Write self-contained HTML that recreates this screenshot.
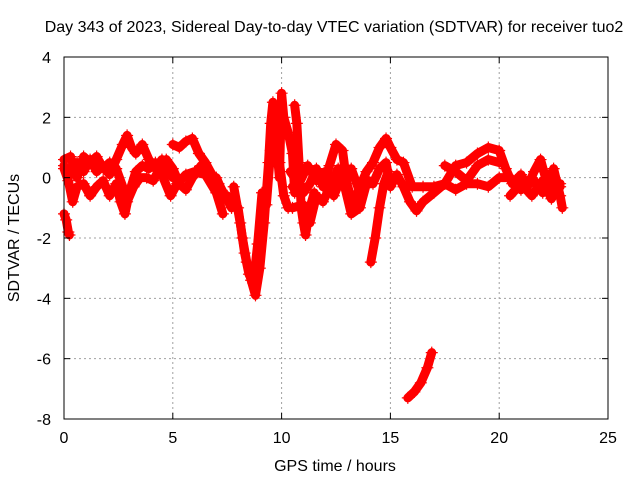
<!DOCTYPE html>
<html><head><meta charset="utf-8"><style>
body{margin:0;background:#fff}
svg text{font-family:"Liberation Sans",sans-serif;font-size:16px;fill:#000}
</style></head><body>
<svg width="640" height="480">
<rect width="640" height="480" fill="#fff"/>
<text x="334" y="32" text-anchor="middle">Day 343 of 2023, Sidereal Day-to-day VTEC variation (SDTVAR) for receiver tuo2</text>
<g id="grid"></g><g id="marks"></g><g id="axes"></g>
<text x="335" y="471" text-anchor="middle">GPS time / hours</text>
<text transform="translate(19,238) rotate(-90)" text-anchor="middle">SDTVAR / TECUs</text>
</svg>
<script>
const xTicks=[0,5,10,15,20,25];
const yTicks=[4,2,0,-2,-4,-6,-8];
const trackA=[[0,0.4],[0.3,0.1],[0.6,0.5],[0.9,0.2],[1.2,0.6],[1.5,0.2],[1.8,0.4],[2.1,0.1],[2.4,0.6],[2.7,1.1],[2.9,1.4],[3.1,1.0],[3.3,0.8],[3.6,1.1],[3.9,0.6],[4.2,0.3],[4.5,0.6],[4.8,0.2],[5.0,0.0]];
const trackA2=[[5.0,1.1],[5.3,1.0],[5.6,1.2],[5.9,1.3],[6.2,0.8],[6.5,0.5],[6.8,0.1],[7.1,-0.2],[7.4,-0.6],[7.7,-1.0]];
const trackB=[[0,0.3],[0.2,-0.1],[0.4,-0.8],[0.6,-0.3],[0.9,-0.2],[1.2,-0.6],[1.5,-0.3],[1.8,-0.1],[2.1,-0.6],[2.4,-0.2],[2.6,-0.8],[2.8,-1.2],[3.0,-0.5],[3.3,0.2],[3.6,0.4],[3.9,0.3],[4.2,0.5],[4.5,0.1],[4.9,-0.6],[5.2,-0.2],[5.6,0.1],[6.0,0.2],[6.5,0.1],[7.0,-0.5],[7.3,-1.2]];
const trackC=[[0,0.6],[0.3,0.7],[0.6,0.0],[0.9,0.7],[1.2,0.5],[1.5,0.7],[1.8,0.3],[2.1,0.5],[2.4,0.3],[2.7,-0.3],[2.9,-0.8],[3.2,-0.3],[3.5,0.0],[3.8,0.0],[4.1,-0.1],[4.4,0.3],[4.7,0.6],[5.0,0.3],[5.3,-0.2],[5.6,-0.4],[5.9,0.0],[6.3,0.4],[6.6,0.1],[7.0,0.0],[7.3,-0.5],[7.6,-0.8]];
const trackD=[[0,-1.2],[0.1,-1.4],[0.2,-1.8],[0.25,-1.9]];
const trackE=[[7.5,-0.6],[7.8,-0.8],[8.0,-1.0],[8.2,-2.0],[8.4,-2.8],[8.6,-3.4],[8.8,-3.9],[9.0,-3.0],[9.2,-1.5],[9.4,0.5],[9.5,1.8],[9.6,2.5],[9.8,2.2],[9.9,0.5],[10.1,-0.6],[10.3,-1.0]];
const trackF=[[7.8,-0.3],[8.1,-1.5],[8.3,-2.5],[8.5,-3.2],[8.7,-3.5],[8.9,-2.2],[9.1,-0.5],[9.3,-0.9],[9.5,0.9],[9.7,1.6],[9.9,0.0],[10.0,2.8],[10.1,2.0],[10.3,1.5],[10.5,0.8],[10.6,-0.5]];
const trackK=[[10.6,2.4],[10.7,1.8],[10.8,0.5],[10.9,-1.0],[11.0,-1.5],[11.1,-1.9],[11.3,-1.0],[11.5,-0.5]];
const trackG=[[10.5,-0.3],[11,-0.5],[11.3,-0.2],[11.6,0.3],[11.9,-0.3],[12.2,0.4],[12.5,1.1],[12.8,0.9],[13.0,-0.2],[13.3,-0.9],[13.6,-0.3],[13.9,0.2],[14.2,0.5],[14.5,1.0],[14.8,1.3],[15.0,1.0],[15.3,0.6],[15.6,0.5],[16,-0.3],[16.5,-0.3],[17,-0.3],[17.5,-0.2],[18,0.4],[18.5,0.5],[19,0.8],[19.5,1.0],[20,0.9],[20.3,0.3],[20.6,-0.2],[21,0.1],[21.3,-0.3],[21.6,0.2],[21.9,0.6],[22.2,-0.2],[22.5,0.3],[22.8,-0.6],[22.9,-1.0]];
const trackH=[[10.5,-1.0],[11,-0.9],[11.3,-1.5],[11.6,-0.6],[11.9,-0.8],[12.3,-0.2],[12.6,0.3],[12.9,-0.3],[13.2,-1.2],[13.6,-1.0],[13.9,-0.2],[14.2,-0.2],[14.5,0.3],[14.8,0.5],[15.0,-0.3],[15.3,0.1],[15.6,-0.3],[15.9,-0.8],[16.2,-1.1],[16.5,-0.8],[17,-0.5],[17.5,-0.2],[18,-0.4],[18.5,-0.2],[19,-0.2],[19.5,-0.3],[20,0.0],[20.5,0.0],[21,-0.4],[21.5,0.0],[22,-0.5],[22.5,-0.2],[22.8,-0.3]];
const trackM1=[[10.4,0.2],[10.8,-0.2],[11.2,0.4],[11.6,-0.1],[12.0,0.2],[12.4,-0.6],[12.8,0.1],[13.2,0.3],[13.6,-0.5],[14.0,-0.1]];
const trackM2=[[20.5,-0.6],[21.0,-0.2],[21.5,-0.6],[22.0,-0.1],[22.4,-0.7],[22.8,-0.2]];
const trackI=[[14.1,-2.8],[14.3,-2.0],[14.5,-1.0],[14.7,-0.2],[14.9,0.2]];
const trackJ=[[15.8,-7.3],[16.1,-7.1],[16.4,-6.8],[16.7,-6.3],[16.9,-5.8]];
const trackL=[[17.5,0.4],[18,0.2],[18.5,-0.1],[19,0.4],[19.5,0.6],[20,0.5]];
const tracks=[trackA,trackA2,trackB,trackC,trackD,trackE,trackF,trackK,trackG,trackH,trackM1,trackM2,trackI,trackJ,trackL];

const NS="http://www.w3.org/2000/svg";
const X0=64,X1=608,Y0=419,Y1=57;
const sx=t=>X0+(t-0)/(25-0)*(X1-X0);
const sy=v=>Y0-(v+8)/(4+8)*(Y0-Y1);
function mk(tag,attrs,parent){const e=document.createElementNS(NS,tag);for(const k in attrs)e.setAttribute(k,attrs[k]);parent.appendChild(e);return e;}
const grid=document.getElementById('grid'),axes=document.getElementById('axes'),marks=document.getElementById('marks');
xTicks.forEach(t=>{
  const x=sx(t);
  if(t>0&&t<25){const g=mk('line',{x1:x,x2:x,y1:Y1,y2:Y0,stroke:'#a0a0a0','stroke-dasharray':'2,3'},grid);
  
  }
  mk('line',{x1:x,x2:x,y1:Y0,y2:Y0-6,stroke:'#000'},axes);
  mk('line',{x1:x,x2:x,y1:Y1,y2:Y1+6,stroke:'#000'},axes);
  const tx=mk('text',{x:x,y:Y0+24,'text-anchor':'middle'},axes);tx.textContent=t;
  
  
});
yTicks.forEach(v=>{
  const y=sy(v);
  if(v>-8&&v<4){const g=mk('line',{x1:X0,x2:X1,y1:y,y2:y,stroke:'#a0a0a0','stroke-dasharray':'2,3'},grid);
  
  }
  mk('line',{x1:X0,x2:X0+6,y1:y,y2:y,stroke:'#000'},axes);
  mk('line',{x1:X1,x2:X1-6,y1:y,y2:y,stroke:'#000'},axes);
  const tx=mk('text',{x:X0-13,y:y+6,'text-anchor':'end'},axes);tx.textContent=v;
  
  
});
const fr=mk('rect',{x:X0,y:Y1,width:X1-X0,height:Y0-Y1,fill:'none',stroke:'#000'},axes);


tracks.forEach(tr=>{
  const pl=mk('polyline',{points:tr.map(p=>sx(p[0])+','+sy(p[1])).join(' '),fill:'none',stroke:'#ff0000','stroke-width':9,'stroke-linejoin':'round','stroke-linecap':'round'},marks);
  
  
  tr.forEach(p=>{
    const x=sx(p[0]),y=sy(p[1]);
    const m=mk('path',{d:`M${x-6},${y}h12M${x},${y-6}v12`,stroke:'#ff0000','stroke-width':1.2},marks);
    
    
  });
});
</script>
</body></html>
